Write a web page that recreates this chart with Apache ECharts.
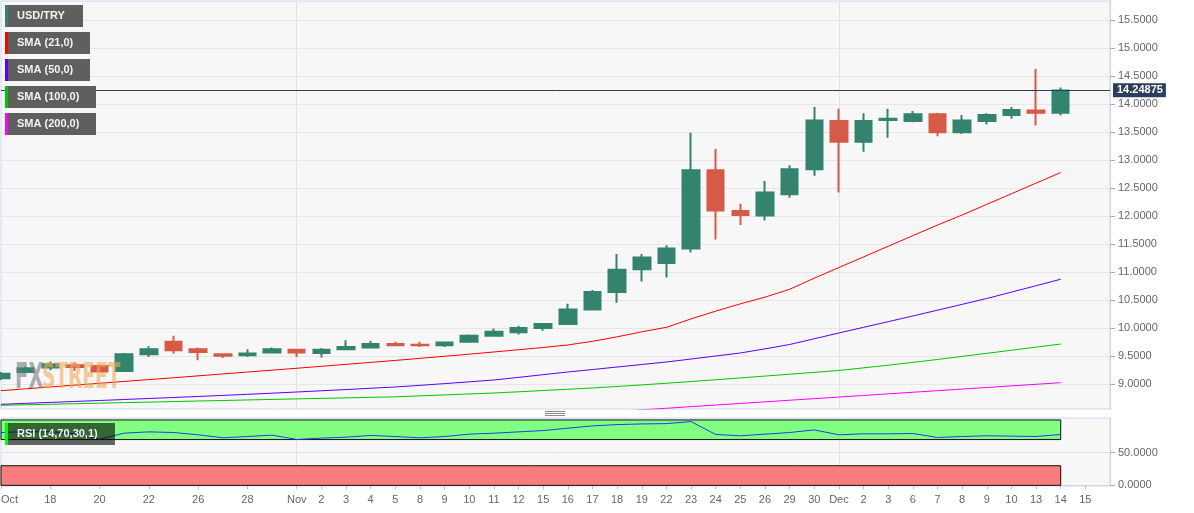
<!DOCTYPE html>
<html><head><meta charset="utf-8">
<script src="https://cdn.jsdelivr.net/npm/echarts/dist/echarts.min.js"></script>
<style>html,body{margin:0;padding:0;background:#fff}#c{width:1194px;height:513px}</style>
</head><body><div id="c"></div>
<script>
// ---- data ----
const dates = [
 '2021-10-14','2021-10-15','2021-10-18','2021-10-19','2021-10-20','2021-10-21','2021-10-22','2021-10-25','2021-10-26','2021-10-27','2021-10-28','2021-10-29',
 '2021-11-01','2021-11-02','2021-11-03','2021-11-04','2021-11-05','2021-11-08','2021-11-09','2021-11-10','2021-11-11','2021-11-12','2021-11-15','2021-11-16','2021-11-17','2021-11-18','2021-11-19','2021-11-22','2021-11-23','2021-11-24','2021-11-25','2021-11-26','2021-11-29','2021-11-30',
 '2021-12-01','2021-12-02','2021-12-03','2021-12-06','2021-12-07','2021-12-08','2021-12-09','2021-12-10','2021-12-13','2021-12-14','2021-12-15','2021-12-16'];
const xTickLabels = ['Oct','','18','','20','','22','','26','','28','',
 'Nov','2','3','4','5','8','9','10','11','12','15','16','17','18','19','22','23','24','25','26','29','30',
 'Dec','2','3','6','7','8','9','10','13','14','15',''];
const open  = [9.10,9.21,9.29,9.33,9.32,9.23,9.53,9.75,9.62,9.53,9.51,9.56,9.61,9.55,9.62,9.65,9.71,9.70,9.69,9.75,9.86,9.92,10.00,10.07,10.33,10.64,11.05,11.16,11.42,12.82,12.09,12.01,12.39,12.84,13.70,13.33,13.72,13.70,13.82,13.50,13.70,13.81,13.89,13.85];
const close = [9.18,9.28,9.35,9.30,9.22,9.53,9.62,9.60,9.57,9.50,9.54,9.62,9.56,9.61,9.66,9.71,9.69,9.69,9.74,9.86,9.93,10.00,10.07,10.33,10.64,11.04,11.26,11.42,12.82,12.10,12.02,12.42,12.84,13.71,13.33,13.70,13.74,13.82,13.50,13.71,13.81,13.90,13.85,14.24875];
const low   = [9.07,9.19,9.24,9.23,9.20,9.22,9.48,9.54,9.42,9.46,9.48,9.54,9.48,9.47,9.60,9.64,9.68,9.66,9.66,9.74,9.85,9.88,9.95,10.06,10.31,10.45,10.83,10.90,11.35,11.58,11.84,11.92,12.33,12.72,12.42,13.15,13.40,13.68,13.43,13.47,13.64,13.74,13.62,13.80];
const high  = [9.21,9.31,9.40,9.38,9.34,9.55,9.67,9.86,9.65,9.54,9.62,9.65,9.62,9.64,9.78,9.77,9.75,9.75,9.75,9.88,9.99,10.04,10.08,10.43,10.68,11.32,11.32,11.48,13.49,13.20,12.22,12.63,12.91,13.95,13.92,13.84,13.92,13.88,13.85,13.81,13.84,13.95,14.63,14.30];
const sma21 = [8.877,8.910,8.943,8.976,9.009,9.042,9.075,9.108,9.142,9.176,9.210,9.244,9.278,9.313,9.348,9.383,9.418,9.455,9.492,9.530,9.569,9.609,9.650,9.694,9.76,9.84,9.93,10.01,10.16,10.30,10.43,10.55,10.69,10.89,11.08,11.27,11.46,11.65,11.84,12.02,12.21,12.40,12.59,12.78];
const sma50 = [8.633,8.650,8.667,8.684,8.701,8.719,8.737,8.755,8.773,8.792,8.812,8.832,8.853,8.875,8.897,8.920,8.943,8.972,9.003,9.035,9.068,9.115,9.163,9.211,9.255,9.300,9.345,9.390,9.443,9.497,9.551,9.625,9.703,9.805,9.909,10.010,10.111,10.213,10.317,10.421,10.526,10.640,10.755,10.870];
const sma100 = [8.615,8.625,8.634,8.644,8.653,8.663,8.672,8.682,8.692,8.701,8.711,8.720,8.730,8.739,8.748,8.758,8.767,8.784,8.801,8.818,8.835,8.857,8.880,8.902,8.925,8.952,8.980,9.010,9.040,9.072,9.105,9.138,9.171,9.204,9.238,9.285,9.333,9.383,9.435,9.490,9.545,9.600,9.656,9.712];
const sma200 = [null,null,null,null,null,null,null,null,null,null,null,null,null,null,null,null,null,null,null,null,null,null,
 8.419,8.448,8.477,8.505,8.534,8.562,8.591,8.620,8.648,8.677,8.706,8.734,8.763,8.791,8.820,8.849,8.877,8.906,8.934,8.963,8.991,9.020];
const rsi = [80.8,82,82,79,70.7,79.8,81.8,80.8,77.3,72.7,74.7,76.8,70.2,72.2,73.7,76.3,74.7,72.7,74.7,78.3,79.8,81.8,83.8,87.4,90.9,92.9,93.9,94.4,97.5,77.8,75.8,78.3,80.8,84.8,77.3,78.8,78.8,79.3,73.2,74.7,75.8,75.3,74.7,77.8];
const yTicks = [9.0,9.5,10.0,10.5,11.0,11.5,12.0,12.5,13.0,13.5,14.0,14.5,15.0,15.5];
const rsiTicks = [0,50];
const lastPrice = 14.24875;
const legendNames = ['USD/TRY','SMA (21,0)','SMA (50,0)','SMA (100,0)','SMA (200,0)'];
const rsiName = 'RSI (14,70,30,1)';

// ---- styles ----
const FONT = '"Liberation Sans", Arial, sans-serif';
const UP = '#33836f', DOWN = '#d55a48';
const lineColors = ['#ff0000','#5a00ff','#00c800','#ff00ff'];
const isMonthLine = (i) => xTickLabels[i] === 'Nov' || xTickLabels[i] === 'Dec';
const hasLabel = (i) => xTickLabels[i] !== '';

const candles = open.map((o, i) => [o, close[i], low[i], high[i]]);

const chart = echarts.init(document.getElementById('c'), null, {renderer: 'canvas'});

const legendBoxes = [];
const boxW = [75, 82, 82, 88, 88];
const stripeCols = [UP, lineColors[0], lineColors[1], lineColors[2], lineColors[3]];
legendNames.forEach((n, k) => {
  const y = 5 + k * 27;
  legendBoxes.push({type:'rect', shape:{x:8, y:y, width:boxW[k], height:22}, style:{fill:'#5f5f5f'}, z:100, silent:true});
  legendBoxes.push({type:'rect', shape:{x:5, y:y, width:3, height:22}, style:{fill:stripeCols[k]}, z:101, silent:true});
  legendBoxes.push({type:'text', x:17, y:y+11, style:{text:n, fill:'#f2f2f2', font:'bold 11px ' + FONT, textVerticalAlign:'middle', verticalAlign:'middle'}, z:102, silent:true});
});

const option = {
  animation: false,
  backgroundColor: '#ffffff',
  grid: [
    {left: 1, right: 84, top: 1, height: 408, show: true, backgroundColor: '#f7f7f7', borderColor: '#ccd6eb', borderWidth: 1, containLabel: false, outerBoundsMode: 'none'},
    {left: 1, right: 84, top: 418, height: 68, show: true, backgroundColor: '#f7f7f7', borderColor: '#ccd6eb', borderWidth: 1, containLabel: false, outerBoundsMode: 'none'}
  ],
  xAxis: [
    {type:'category', gridIndex:0, data: dates, boundaryGap:false,
     axisLine:{show:false}, axisTick:{show:false}, axisLabel:{show:false},
     splitLine:{show:true, interval:(i)=>isMonthLine(i), lineStyle:{color:'#e3e3e3'}}},
    {type:'category', gridIndex:1, data: dates, boundaryGap:false,
     axisLine:{show:true, lineStyle:{color:'#ccd6eb'}},
     axisTick:{show:true, length:4, interval:(i)=>hasLabel(i), lineStyle:{color:'#b8c2d6'}},
     axisLabel:{show:true, interval:(i)=>hasLabel(i), formatter:(v, i)=>xTickLabels[i], color:'#666', fontSize:11, fontFamily:FONT, margin:8, alignMinLabel:'left'},
     splitLine:{show:true, interval:(i)=>isMonthLine(i), lineStyle:{color:'#e3e3e3'}}}
  ],
  yAxis: [
    {type:'value', gridIndex:0, position:'right', min:8.549, max:15.848, splitNumber:14,
     axisLine:{show:true, lineStyle:{color:'#ccd6eb'}},
     axisTick:{show:true, length:5, lineStyle:{color:'#a8a8a8'}, customValues: yTicks},
     axisLabel:{customValues: yTicks, color:'#666', fontSize:11, fontFamily:FONT, margin:8,
       formatter:(v)=> yTicks.some(t=>Math.abs(t-v)<1e-6) ? v.toFixed(4) : ''},
     splitLine:{show:true, lineStyle:{color:'#e6e6e6'}}},
    {type:'value', gridIndex:1, position:'right', min:-1, max:103, splitNumber:2,
     axisLine:{show:true, lineStyle:{color:'#ccd6eb'}},
     axisTick:{show:true, length:5, lineStyle:{color:'#a8a8a8'}, customValues: rsiTicks},
     axisLabel:{customValues: rsiTicks, color:'#666', fontSize:11, fontFamily:FONT, margin:8,
       formatter:(v)=> rsiTicks.includes(v) ? v.toFixed(4) : ''},
     splitLine:{show:true, lineStyle:{color:'#e3e3e3'}}}
  ],
  series: [
    {name:'SMA (200,0)', type:'line', xAxisIndex:0, yAxisIndex:0, data:sma200, showSymbol:false, symbol:'none', lineStyle:{color:lineColors[3], width:1}, z:2, silent:true},
    {name:'SMA (100,0)', type:'line', xAxisIndex:0, yAxisIndex:0, data:sma100, showSymbol:false, symbol:'none', lineStyle:{color:lineColors[2], width:1}, z:2, silent:true},
    {name:'SMA (50,0)', type:'line', xAxisIndex:0, yAxisIndex:0, data:sma50, showSymbol:false, symbol:'none', lineStyle:{color:lineColors[1], width:1}, z:2, silent:true},
    {name:'SMA (21,0)', type:'line', xAxisIndex:0, yAxisIndex:0, data:sma21, showSymbol:false, symbol:'none', lineStyle:{color:lineColors[0], width:1}, z:2, silent:true},
    {name:'USD/TRY', type:'candlestick', xAxisIndex:0, yAxisIndex:0, data:candles, barWidth:17, z:3, silent:true,
     itemStyle:{color:UP, color0:DOWN, borderColor:UP, borderColor0:DOWN, borderWidth:2},
     markLine:{silent:true, symbol:'none', animation:false,
       lineStyle:{color:'#2c3e5c', width:1, type:'solid'},
       label:{show:true, position:'end', distance:3, formatter: String(lastPrice), color:'#fff', fontWeight:'bold', fontSize:11, fontFamily:FONT,
              backgroundColor:'#2c3e5c', padding:[2,3,1,4]},
       data:[{yAxis:lastPrice}]}},
    {name:rsiName, type:'line', xAxisIndex:1, yAxisIndex:1, data:rsi, showSymbol:false, symbol:'none', lineStyle:{color:'#1f3cf0', width:1}, z:3, silent:true,
     markArea:{silent:true,
       data:[
         [{xAxis:dates[0], yAxis:70, itemStyle:{color:'#80ff80', borderColor:'#111', borderWidth:1, opacity:1}}, {xAxis:dates[43], yAxis:100}],
         [{xAxis:dates[0], yAxis:0, itemStyle:{color:'#fb7c7c', borderColor:'#111', borderWidth:1, opacity:1}}, {xAxis:dates[43], yAxis:30}]
       ]}}
  ],
  graphic: [
    {type:'text', x:15, y:361, scaleX:0.56, style:{text:'FX', fill:'rgba(120,120,130,0.6)', font:'bold 35px "DejaVu Sans", sans-serif'}, z:50, silent:true},
    {type:'text', x:42, y:361, scaleX:0.53, style:{text:'STREET', fill:'rgba(240,170,90,0.6)', font:'bold 35px "DejaVu Sans", sans-serif'}, z:50, silent:true},
    ...legendBoxes,
    {type:'rect', shape:{x:8, y:423, width:107, height:22}, style:{fill:'rgba(0,0,0,0.6)'}, z:100, silent:true},
    {type:'rect', shape:{x:5, y:423, width:3, height:22}, style:{fill:'#00ff00'}, z:101, silent:true},
    {type:'text', x:17, y:434, style:{text:rsiName, fill:'#f2f2f2', font:'bold 11px ' + FONT, verticalAlign:'middle', textVerticalAlign:'middle'}, z:102, silent:true},
    {type:'line', shape:{x1:545, y1:411.5, x2:565, y2:411.5}, style:{stroke:'#8a8a8a', lineWidth:1}, z:100, silent:true},
    {type:'line', shape:{x1:545, y1:413.5, x2:565, y2:413.5}, style:{stroke:'#8a8a8a', lineWidth:1}, z:100, silent:true},
    {type:'line', shape:{x1:545, y1:415.5, x2:565, y2:415.5}, style:{stroke:'#8a8a8a', lineWidth:1}, z:100, silent:true}
  ]
};
chart.setOption(option);
</script>
</body></html>
